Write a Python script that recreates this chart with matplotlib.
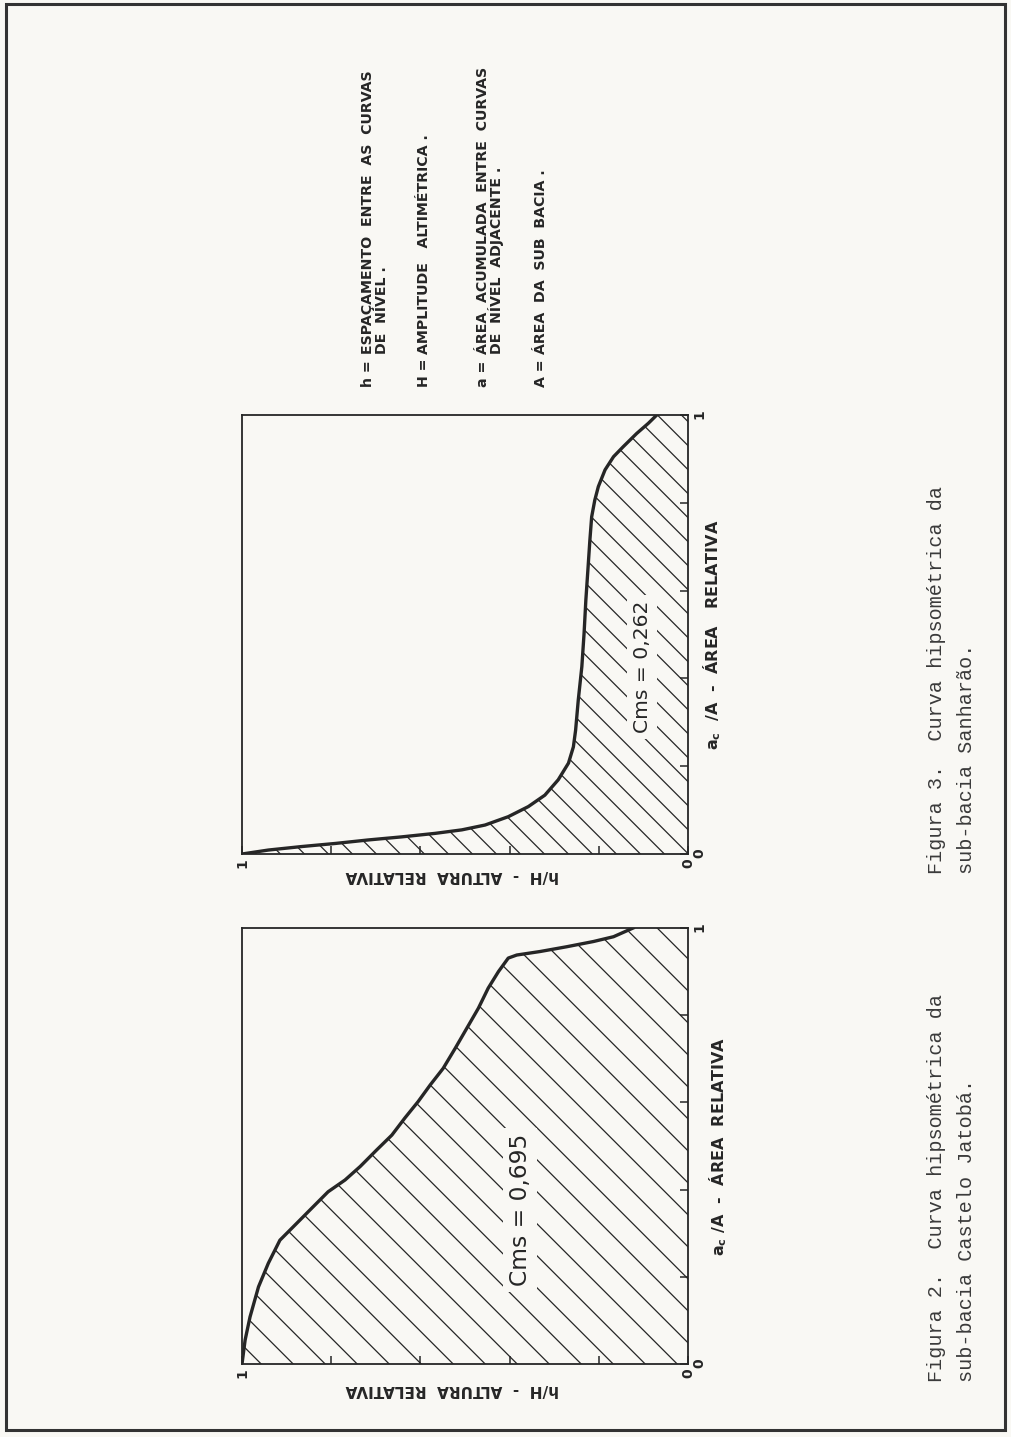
import numpy as np
import matplotlib.pyplot as plt
from matplotlib.patches import Polygon, Rectangle

# Figura 2 - sub-bacia Castelo Jatoba (area relativa a/A, altura relativa h/H)
area_cj = [0.0, 0.055, 0.108, 0.177, 0.231, 0.284, 0.323, 0.357, 0.395, 0.422,
           0.453, 0.491, 0.525, 0.564, 0.602, 0.640, 0.678, 0.724, 0.770, 0.816,
           0.862, 0.900, 0.931, 0.938, 0.946, 0.957, 0.969, 0.980, 1.0]
alt_cj = [1.0, 0.993, 0.982, 0.963, 0.941, 0.915, 0.877, 0.844, 0.807, 0.769,
          0.735, 0.698, 0.664, 0.635, 0.605, 0.578, 0.549, 0.522, 0.496, 0.470,
          0.448, 0.425, 0.403, 0.384, 0.332, 0.272, 0.212, 0.167, 0.123]
cms_cj = "Cms = 0,695"

# Figura 3 - sub-bacia Sanharao
area_sh = [0.0, 0.009, 0.017, 0.024, 0.032, 0.039, 0.047, 0.055, 0.066, 0.085,
           0.108, 0.134, 0.169, 0.207, 0.244, 0.282, 0.351, 0.427, 0.503, 0.579,
           0.654, 0.715, 0.768, 0.806, 0.837, 0.875, 0.905, 0.928, 0.958, 0.981, 1.0]
alt_sh = [1.0, 0.941, 0.866, 0.791, 0.717, 0.642, 0.567, 0.507, 0.455, 0.403,
          0.358, 0.321, 0.291, 0.268, 0.257, 0.252, 0.246, 0.238, 0.233, 0.229,
          0.224, 0.220, 0.216, 0.209, 0.201, 0.186, 0.167, 0.145, 0.115, 0.089, 0.070]
cms_sh = "Cms = 0,262"

ticks = [0, 0.2, 0.4, 0.6, 0.8, 1]
tick_labels = ['0', '', '', '', '', '1']

legenda = [("h =", ["ESPAÇAMENTO  ENTRE  AS  CURVAS", "DE  NÍVEL ."]),
           ("H =", ["AMPLITUDE   ALTIMÉTRICA ."]),
           ("a =", ["ÁREA  ACUMULADA  ENTRE  CURVAS", "DE  NÍVEL  ADJACENTE ."]),
           ("A =", ["ÁREA  DA  SUB  BACIA ."])]

leg_x = [372, 428, 487, 545]

cap2 = ["Figura 2.  Curva hipsométrica da", "sub-bacia Castelo Jatobá."]
cap3 = ["Figura 3.  Curva hipsométrica da", "sub-bacia Sanharão."]

paper = '#f9f8f4'
ink = '#262626'
W, H = 1011, 1437

fig = plt.figure(figsize=(W / 100, H / 100), dpi=100)
fig.patch.set_facecolor(paper)


def fx(x):
    return x / W


def fy(y):
    return 1 - y / H


def painel(x0, y0, x1, y1, area, alt, cms, cms_xy, cms_fs, passo,
           xlab, xlab_x, ylab_y):
    ax = fig.add_axes([fx(x0), fy(y1), (x1 - x0) / W, (y1 - y0) / H])
    ax.set_facecolor(paper)
    ax.set_xlim(1, 0)
    ax.set_ylim(0, 1)
    ax.plot(alt, area, color=ink, lw=2.4, solid_joinstyle='round', zorder=4)

    poly = Polygon(list(zip(alt, area)) + [(0, 1), (0, 0)], closed=True,
                   fc='none', ec='none')
    ax.add_patch(poly)
    # hachura manual (o hatch do matplotlib fica denso demais)
    wpx, hpx = x1 - x0, y1 - y0
    for c in np.arange(passo * 0.6, wpx + hpx, passo):
        ln, = ax.plot([c / wpx, (c - hpx) / wpx], [0, 1], transform=ax.transAxes,
                      color=ink, lw=0.9, zorder=3)
        ln.set_clip_path(poly)

    ax.set_xticks(ticks)
    ax.set_xticklabels(tick_labels, rotation=90, fontweight='bold')
    ax.yaxis.tick_right()
    ax.set_yticks(ticks)
    ax.set_yticklabels(tick_labels, rotation=90, fontweight='bold')
    ax.tick_params(direction='in', length=6, width=1.1, colors=ink,
                   labelsize=10, pad=3)
    for s in ax.spines.values():
        s.set_linewidth(1.3)
        s.set_color(ink)

    fig.text(fx(cms_xy[0]), fy(cms_xy[1]), cms, rotation=90, ha='center',
             va='center', fontsize=cms_fs, family='DejaVu Sans', color=ink,
             bbox=dict(fc=paper, ec='none', pad=4))
    fig.text(fx(xlab_x), fy((y0 + y1) / 2), xlab, rotation=90, ha='center',
             va='center', fontsize=11.5, fontweight='bold', family='DejaVu Sans',
             color=ink)
    fig.text(fx(452), fy(ylab_y), "h/H  -  ALTURA  RELATIVA", rotation=180,
             ha='center', va='center', fontsize=11, fontweight='bold',
             family='DejaVu Sans', color=ink)
    return ax


painel(242, 928, 688, 1364, area_cj, alt_cj, cms_cj, (520, 1210), 16.8, 32,
       r"$\mathbf{a_c}$ /A  -  ÁREA  RELATIVA", 718, 1390)
painel(242, 415, 688, 854, area_sh, alt_sh, cms_sh, (642, 667), 14.6, 24,
       r"$\mathbf{a_c}$  /A  -  ÁREA   RELATIVA", 712, 876)

# legenda (texto girado)
for (sim, linhas), x in zip(legenda, leg_x):
    fig.text(fx(x), fy(387), sim, rotation=90, rotation_mode='anchor',
             ha='left', va='baseline', fontsize=10.2, fontweight='bold',
             family='DejaVu Sans', color=ink)
    for i, t in enumerate(linhas):
        fig.text(fx(x + 14 * i), fy(354), t, rotation=90, rotation_mode='anchor',
                 ha='left', va='baseline', fontsize=10.2, fontweight='bold',
                 family='DejaVu Sans', color=ink)

# legendas das figuras
for linhas, y in [(cap2, 1382), (cap3, 874)]:
    for i, t in enumerate(linhas):
        fig.text(fx(937 + 30 * i), fy(y), t, rotation=90, rotation_mode='anchor',
                 ha='left', va='center', fontsize=14.5, family='Liberation Mono',
                 color='#3a3a3a')

# moldura da pagina
fig.add_artist(Rectangle((fx(6), fy(1430)), (1005 - 6) / W, (1430 - 4) / H,
                         transform=fig.transFigure, fill=False, lw=2.2, ec='#333333'))

fig.savefig('out.png', dpi=100, facecolor=paper)
